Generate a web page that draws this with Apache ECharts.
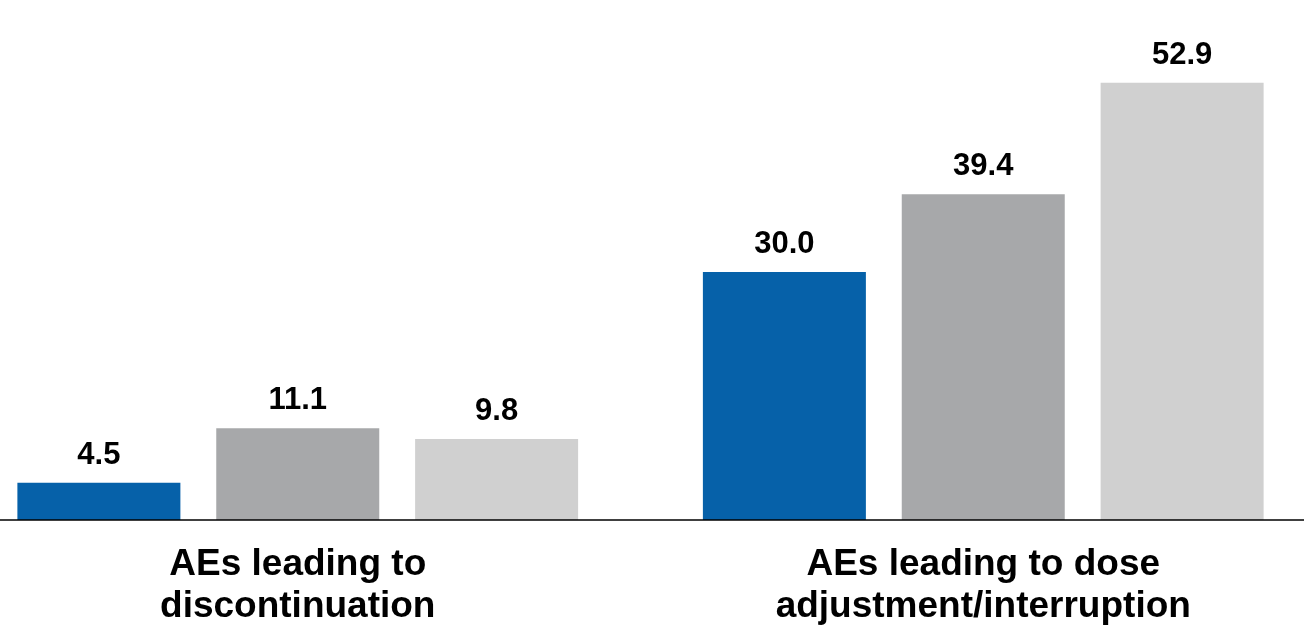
<!DOCTYPE html>
<html>
<head>
<meta charset="utf-8">
<script src="https://cdn.jsdelivr.net/npm/echarts@6/dist/echarts.min.js"></script>
<style>
  html, body { margin: 0; padding: 0; background: #ffffff; }
  #chart { width: 1304px; height: 627px; }
</style>
</head>
<body>
<div id="chart"></div>
<script>
// Adverse-event rates (%) per category and treatment arm
const categories = [
  'AEs leading to\ndiscontinuation',
  'AEs leading to dose\nadjustment/interruption'
];
const seriesNames = ['Arm 1', 'Arm 2', 'Arm 3'];
const arm1Values = [4.5, 30.0];
const arm2Values = [11.1, 39.4];
const arm3Values = [9.8, 52.9];
const seriesColors = ['#0661A9', '#A7A8AA', '#D0D0D0'];

const valueSets = [arm1Values, arm2Values, arm3Values];

const chart = echarts.init(document.getElementById('chart'), null, { renderer: 'canvas' });

chart.setOption({
  animation: false,
  backgroundColor: '#ffffff',
  grid: {
    left: -45,
    right: -22,
    top: 24,
    bottom: 107,
    containLabel: false,
    outerBoundsMode: 'none'
  },
  xAxis: {
    type: 'category',
    data: categories,
    axisTick: { show: false },
    axisLine: { show: true, lineStyle: { color: '#000000', width: 1.5 } },
    axisLabel: {
      margin: 24,
      fontFamily: 'Liberation Sans, Arial, sans-serif',
      fontWeight: 'bold',
      fontSize: 37,
      lineHeight: 42,
      color: '#000000',
      interval: 0
    },
    z: 10
  },
  yAxis: {
    type: 'value',
    min: 0,
    max: 60,
    show: false,
    splitLine: { show: false }
  },
  series: valueSets.map((vals, i) => ({
    name: seriesNames[i],
    type: 'bar',
    data: vals,
    barWidth: 163,
    barGap: '22%',
    itemStyle: { color: seriesColors[i] },
    label: {
      show: true,
      position: 'top',
      distance: 12,
      formatter: p => p.value.toFixed(1),
      fontFamily: 'Liberation Sans, Arial, sans-serif',
      fontWeight: 'bold',
      fontSize: 31,
      lineHeight: 31,
      color: '#000000'
    }
  }))
});
</script>
</body>
</html>
